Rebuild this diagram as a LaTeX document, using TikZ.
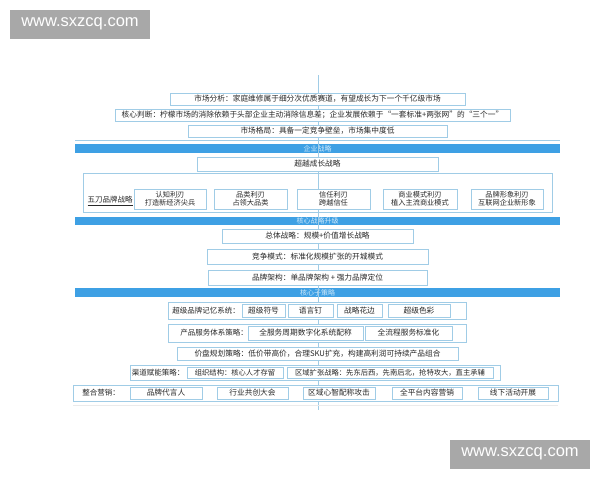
\documentclass[tikz,border=0pt]{standalone}
\usepackage{fontspec}
\setmainfont{Noto Sans CJK SC}
\newfontfamily\wmfont{Liberation Sans}
\definecolor{boxc}{RGB}{160,204,230}
\definecolor{barc}{RGB}{62,160,228}
\definecolor{bartxt}{RGB}{205,232,250}
\definecolor{txt}{RGB}{40,40,40}
\definecolor{wmgray}{RGB}{168,168,168}
\newcommand\placebox[6][]{%
  \node[box,#1,minimum width={(#4-#2)*1pt},minimum height={(#5-#3)*1pt}]
    (#2-#3) at ({(#2+#4)/2},{(#3+#5)/2}) {#6};}
\begin{document}
\begin{tikzpicture}[x=1pt,y=-1pt,
  box/.style={draw=boxc,line width=0.9pt,fill=white,inner sep=0pt,
    font=\fontsize{7.7}{8}\selectfont,text=txt,align=center},
  subbox/.style={font=\fontsize{7.2}{8}\selectfont},
  smallbox/.style={font=\fontsize{7.3}{8}\selectfont},
  frame/.style={fill=none},
  bar/.style={fill=barc,draw=none,inner sep=0pt,
    font=\fontsize{7}{7}\selectfont,text=bartxt},
  lbl/.style={inner sep=0pt,font=\fontsize{7.5}{8}\selectfont,text=txt},
  spine/.style={draw=boxc,line width=0.8pt},
  wm/.style={fill=wmgray,text=white,inner sep=0pt,minimum width=140pt,
    minimum height=29pt,font=\wmfont\fontsize{16.5}{18}\selectfont}]
\useasboundingbox[fill=white] (0,0) rectangle (600,480);

% bars
\node[bar,minimum width=485pt,minimum height=9pt] (bar1) at (317.5,148.5) {企业战略};
\node[bar,minimum width=485pt,minimum height=8pt] (bar2) at (317.5,221) {核心战略升级};
\node[bar,minimum width=485pt,minimum height=9pt] (bar3) at (317.5,292.5) {核心子策略};
\coordinate (tl) at (75,140);
\coordinate (tr) at (560,140);
\draw[boxc,line width=0.8pt] (tl) -- (tr);

% spine
\coordinate (top) at (318,75);
\coordinate (bot) at (318,410);
\draw[spine] (top) -- (bot);
\coordinate (fl) at (73,405);
\coordinate (fr) at (558,405);
\draw[black!8,line width=0.8pt] (fl) -- (fr);

% top section
\placebox{170}{93}{465}{105}{市场分析：家庭维修属于细分次优质赛道，有望成长为下一个千亿级市场}
\placebox{115}{109}{510}{121}{核心判断：柠檬市场的消除依赖于头部企业主动消除信息差；企业发展依赖于“一套标准+两张网”的“三个一”}
\placebox{188}{125}{447}{137}{市场格局：具备一定竞争壁垒，市场集中度低}

% enterprise strategy
\placebox{197}{157}{438}{171}{超越成长战略}
\placebox[frame]{83}{173}{552}{212}{}
\node[lbl] (wudao) at (110,201) {\underline{五刀品牌战略}};
\placebox[subbox]{134}{189}{206}{209}{认知利刃\\打造新经济尖兵}
\placebox[subbox]{214}{189}{287}{209}{品类利刃\\占领大品类}
\placebox[subbox]{297}{189}{370}{209}{信任利刃\\跨越信任}
\placebox[subbox]{383}{189}{457}{209}{商业模式利刃\\植入主流商业模式}
\placebox[subbox]{471}{189}{543}{209}{品牌形象利刃\\互联网企业新形象}

% core strategy upgrade
\placebox{222}{229}{413}{243}{总体战略：规模+价值增长战略}
\placebox{207}{249}{428}{264}{竞争模式：标准化规模扩张的开城模式}
\placebox{208}{270}{427}{285}{品牌架构：单品牌架构 + 强力品牌定位}

% core sub strategies
\placebox{168}{302}{466}{319}{}
\node[lbl] (r1l) at (206,310.5) {超级品牌记忆系统：};
\placebox{242}{304}{285}{317}{超级符号}
\placebox{288}{304}{333}{317}{语言钉}
\placebox{337}{304}{382}{317}{战略花边}
\placebox{388}{304}{450}{317}{超级色彩}

\placebox{168}{324}{466}{342}{}
\node[lbl] (r2l) at (214,333) {产品服务体系策略：};
\placebox{248}{326}{363}{340}{全服务周期数字化系统配称}
\placebox{365}{326}{452}{340}{全流程服务标准化}

\placebox{177}{347}{458}{360}{价盘规划策略：低价带高价，合理SKU扩充，构建高利润可持续产品组合}

\placebox{130}{365}{500}{380}{}
\node[lbl] (r4l) at (158,372.5) {渠道赋能策略：};
\placebox[smallbox]{187}{367}{283}{378}{组织结构：核心人才存留}
\placebox[smallbox]{287}{367}{493}{378}{区域扩张战略：先东后西，先南后北，抢特攻大，直主承辅}

\placebox{73}{385}{558}{401}{}
\node[lbl] (r5l) at (101,393) {整合营销：};
\placebox{130}{387}{202}{399}{品牌代言人}
\placebox{217}{387}{288}{399}{行业共创大会}
\placebox{303}{387}{375}{399}{区域心智配称攻击}
\placebox{392}{387}{462}{399}{全平台内容营销}
\placebox{478}{387}{548}{399}{线下活动开展}

% watermarks
\node[wm] (wm1) at (80,24) {www.sxzcq.com};
\node[wm] (wm2) at (520,454) {www.sxzcq.com};
\end{tikzpicture}
\end{document}
